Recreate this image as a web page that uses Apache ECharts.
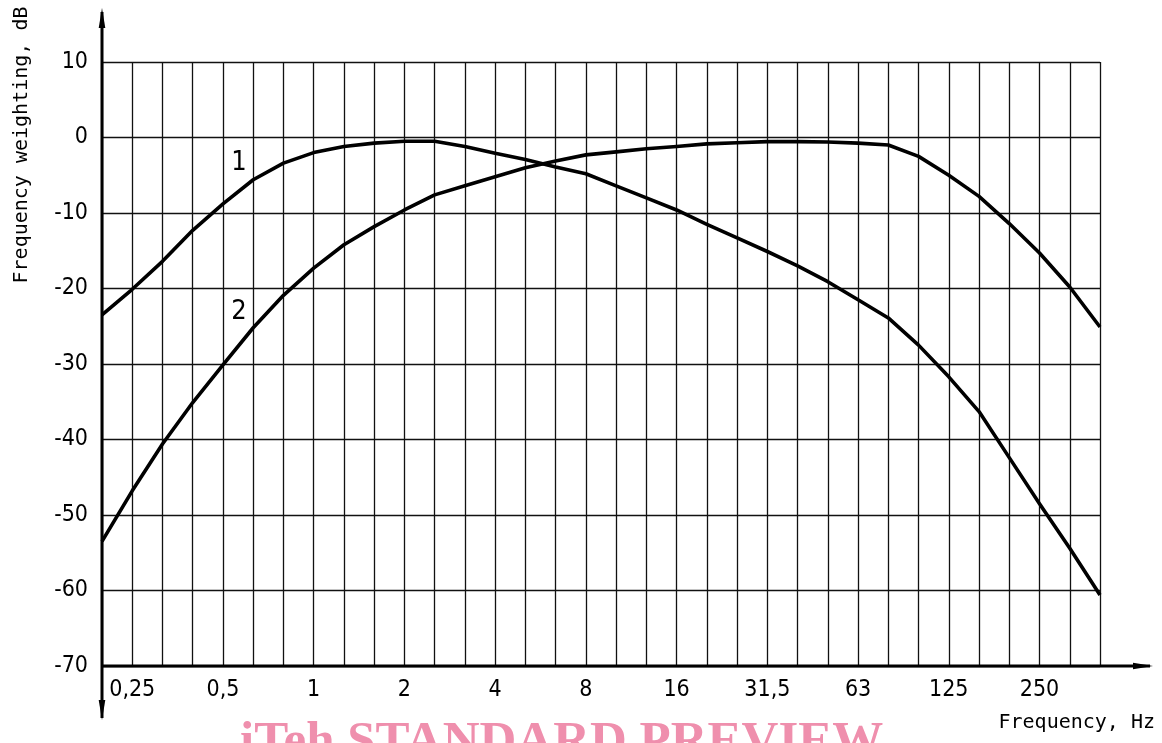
<!DOCTYPE html>
<html>
<head>
<meta charset="utf-8">
<script src="https://cdn.jsdelivr.net/npm/echarts@6/dist/echarts.min.js"></script>
<style>
html,body{margin:0;padding:0;background:#fff;}
#chart{width:1162px;height:743px;}
</style>
</head>
<body>
<div id="chart"></div>
<script>
// One-third-octave band centre frequencies (Hz), 0,2 ... 400
const freqLabels = ['0,2','0,25','0,315','0,4','0,5','0,63','0,8','1','1,25','1,6','2','2,5','3,15','4','5','6,3','8','10','12,5','16','20','25','31,5','40','50','63','80','100','125','160','200','250','315','400'];
// Frequencies that carry a tick label
const tickLabels = ['0,25','0,5','1','2','4','8','16','31,5','63','125','250'];
// Curve 1 (dB)
const curve1 = [-23.5,-20.1,-16.4,-12.3,-8.8,-5.6,-3.4,-2.0,-1.2,-0.75,-0.5,-0.5,-1.2,-2.1,-2.9,-3.9,-4.8,-6.4,-8.0,-9.6,-11.5,-13.3,-15.1,-17.0,-19.1,-21.5,-23.9,-27.5,-31.7,-36.3,-42.4,-48.5,-54.4,-60.6];
// Curve 2 (dB)
const curve2 = [-53.5,-46.8,-40.6,-35.1,-30.1,-25.2,-20.9,-17.3,-14.2,-11.8,-9.6,-7.6,-6.4,-5.2,-4.0,-3.1,-2.3,-1.9,-1.5,-1.2,-0.85,-0.7,-0.55,-0.55,-0.6,-0.75,-1.0,-2.5,-5.0,-7.8,-11.4,-15.3,-19.8,-25.1];
// Curve identifiers and where they are written (category, dB)
const curveNames = ['1','2'];
const curveNamePos = [['0,5',-3.4],['0,5',-23.1]];
const yTitle = 'Frequency weighting, dB';
const xTitle = 'Frequency, Hz';
const watermark = 'iTeh STANDARD PREVIEW';

const tickFont = '"DejaVu Sans Condensed","Liberation Sans Narrow","DejaVu Sans",sans-serif';
const titleFont = '"DejaVu Sans Mono",monospace';

const chart = echarts.init(document.getElementById('chart'), null, {renderer:'canvas'});

function mkSeries(data, idx){
  return {
    type:'line', data:data, smooth:false, symbol:'none', silent:true,
    lineStyle:{color:'#000', width:3.6, join:'round'},
    z:5,
    markPoint:{
      symbol:'circle', symbolSize:0, silent:true,
      itemStyle:{color:'rgba(0,0,0,0)'},
      label:{show:true, position:'inside', offset:[16,0], formatter:curveNames[idx],
        color:'#000', fontFamily:tickFont, fontSize:27},
      data:[{coord:curveNamePos[idx]}]
    }
  };
}

const option = {
  backgroundColor:'#fff',
  animation:false,
  grid:{left:102, right:62, top:62, bottom:77, containLabel:false, outerBoundsMode:'none'},
  xAxis:{
    type:'category', data:freqLabels, boundaryGap:false,
    axisLine:{show:false}, axisTick:{show:false},
    axisLabel:{
      show:true, interval:function(i,v){return tickLabels.indexOf(v)>=0;},
      hideOverlap:false, margin:13,
      color:'#000', fontFamily:tickFont, fontSize:23
    },
    splitLine:{show:true, interval:0, lineStyle:{color:'#111', width:1.3}}
  },
  yAxis:{
    type:'value', min:-70, max:10, interval:10,
    axisLine:{show:false}, axisTick:{show:false},
    axisLabel:{margin:14, color:'#000', fontFamily:tickFont, fontSize:23},
    splitLine:{show:true, lineStyle:{color:'#111', width:1.3}}
  },
  series:[mkSeries(curve1,0), mkSeries(curve2,1)]
};
chart.setOption(option);

// Axes with arrows, titles and watermark, positioned from the grid
const x0 = chart.convertToPixel({xAxisIndex:0}, 0);
const x1 = chart.convertToPixel({xAxisIndex:0}, freqLabels.length-1);
const yBot = chart.convertToPixel({yAxisIndex:0}, -70);
const yTop = chart.convertToPixel({yAxisIndex:0}, 10);
const aw = 3.3, al = 20;
chart.setOption({
  graphic:[
    {type:'line', shape:{x1:x0, y1:yTop-50, x2:x0, y2:yBot+52}, style:{stroke:'#000', lineWidth:3}, z:10},
    {type:'polygon', shape:{points:[[x0,yTop-54],[x0-aw,yTop-54+al],[x0+aw,yTop-54+al]]}, style:{fill:'#000'}, z:10},
    {type:'polygon', shape:{points:[[x0,yBot+54],[x0-aw,yBot+54-al],[x0+aw,yBot+54-al]]}, style:{fill:'#000'}, z:10},
    {type:'line', shape:{x1:x0, y1:yBot, x2:x1+50, y2:yBot}, style:{stroke:'#000', lineWidth:3}, z:10},
    {type:'polygon', shape:{points:[[x1+53,yBot],[x1+53-al,yBot-aw],[x1+53-al,yBot+aw]]}, style:{fill:'#000'}, z:10},
    {type:'text', x:22, y:(yTop+yBot)/2-219, rotation:Math.PI/2,
      style:{text:yTitle, font:'20px '+titleFont, fill:'#000', textAlign:'center', textVerticalAlign:'middle'}, z:10},
    {type:'text', x:1155, y:yBot+57,
      style:{text:xTitle, font:'20px '+titleFont, fill:'#000', textAlign:'right', textVerticalAlign:'middle'}, z:10},
    {type:'text', x:240, y:717,
      style:{text:watermark, font:'bold 51px "Liberation Serif","DejaVu Serif",serif', fill:'#ef8fad', textAlign:'left', textVerticalAlign:'top'}, z:1}
  ]
});
</script>
</body>
</html>
